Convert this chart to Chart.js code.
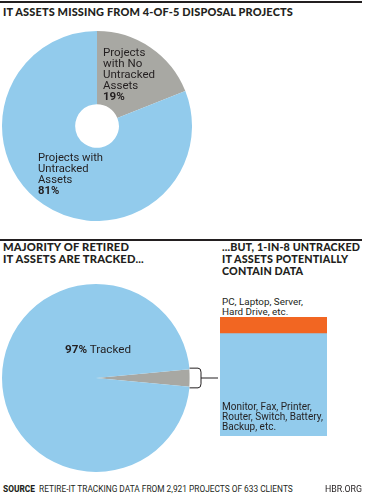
<!DOCTYPE html>
<html><head><meta charset="utf-8">
<script src="https://cdn.jsdelivr.net/npm/chart.js@4"></script>
<style>
html,body{margin:0;padding:0;background:#fff;}
#wrap{position:relative;width:365px;height:495px;overflow:hidden;font-family:Roboto,"Open Sans",sans-serif;color:#231f20;}
.abs{position:absolute;white-space:nowrap;}
.rule{position:absolute;left:0;width:362px;height:2px;background:#231f20;}
.h{font-family:Lato,sans-serif;font-weight:900;font-size:10.9px;line-height:12px;letter-spacing:0.15px;}
.lbl{font-size:10.2px;line-height:11px;}
.sm{font-size:10px;line-height:10px;}
.ft{font-size:7.3px;line-height:10px;}
canvas{position:absolute;}
</style></head>
<body><div id="wrap">
<div class="rule" style="top:1px"></div>
<div class="abs h" data-w="290" style="left:3px;top:6px">IT ASSETS MISSING FROM 4-OF-5 DISPOSAL PROJECTS</div>
<canvas id="donut" width="190" height="190" style="left:2px;top:31px"></canvas>
<div class="abs lbl" data-w="52" style="left:103px;top:47px">Projects<br>with No<br>Untracked<br>Assets<br><b>19%</b></div>
<div class="abs lbl" data-w="65" style="left:38px;top:152px">Projects with<br>Untracked<br>Assets<br><b>81%</b></div>

<div class="rule" style="top:239px"></div>
<div class="abs h" data-w="141" style="left:3px;top:241px">MAJORITY OF RETIRED<br>IT ASSETS ARE TRACKED...</div>
<div class="abs h" data-w="138" style="left:222px;top:241px">...BUT, 1-IN-8 UNTRACKED<br>IT ASSETS POTENTIALLY<br>CONTAIN DATA</div>

<canvas id="pie" width="216" height="188" style="left:2px;top:284px"></canvas>
<div class="abs" data-w="66" style="left:65px;top:343px;font-size:10.6px;line-height:12px"><b>97%</b> Tracked</div>

<canvas id="bar" width="107" height="119" style="left:220px;top:317px"></canvas>
<div class="abs sm" data-w="81" style="left:222px;top:297px">PC, Laptop, Server,<br>Hard Drive, etc.</div>
<div class="abs sm" data-w="101" style="left:222px;top:402px">Monitor, Fax, Printer,<br>Router, Switch, Battery,<br>Backup, etc.</div>

<div class="abs ft" data-w="290" style="left:3px;top:484px"><b style="font-weight:800">SOURCE</b>&nbsp; RETIRE-IT TRACKING DATA FROM 2,921 PROJECTS OF 633 CLIENTS</div>
<div class="abs ft" data-w="37" style="right:3px;top:484px">HBR.ORG</div>
</div>
<script>
// ---- data ----
const donutLabels = ["Projects with No Untracked Assets", "Projects with Untracked Assets"];
const donutValues = [19, 81];
const pieLabels = ["Untracked", "Tracked"];
const pieValues = [3, 97];
const barCategories = ["Untracked IT assets"];
const barContainsData = [14];   // PC, Laptop, Server, Hard Drive, etc.
const barOther = [86];          // Monitor, Fax, Printer, Router, ...

// fit text widths to the reference layout
document.querySelectorAll("[data-w]").forEach(el => {
  const fs = parseFloat(getComputedStyle(el).fontSize);
  const w = el.getBoundingClientRect().width;
  el.style.fontSize = (fs * parseFloat(el.dataset.w) / w).toFixed(2) + "px";
});

const BLUE = "#92cbec", GRAY = "#a8a8a3", ORANGE = "#f26622", INK = "#231f20";
Chart.defaults.animation = false;
Chart.defaults.plugins.legend.display = false;
Chart.defaults.plugins.tooltip.enabled = false;

new Chart(document.getElementById("donut"), {
  type: "doughnut",
  data: { labels: donutLabels, datasets: [{ data: donutValues, backgroundColor: [GRAY, BLUE], borderWidth: 0 }] },
  options: { responsive: false, devicePixelRatio: 1, cutout: "23%", rotation: 0, layout: { padding: 0 } }
});

const bracket = {
  id: "bracket",
  afterDatasetsDraw(chart) {
    const a = chart.getDatasetMeta(0).data[0];
    const { x, y, startAngle, endAngle, outerRadius: R } = a.getProps(["x","y","startAngle","endAngle","outerRadius"], true);
    const p1 = { x: x + R * Math.cos(startAngle), y: y + R * Math.sin(startAngle) };
    const p2 = { x: x + R * Math.cos(endAngle), y: y + R * Math.sin(endAngle) };
    const top = p1.y - 1, bot = p2.y + 1;
    const bx = x + R + 11;
    const ctx = chart.ctx;
    ctx.save();
    ctx.beginPath();
    ctx.moveTo(p1.x, top);
    ctx.lineTo(bx - 3, top);
    ctx.quadraticCurveTo(bx, top, bx, top + 4);
    ctx.lineTo(bx, bot - 4);
    ctx.quadraticCurveTo(bx, bot, bx - 3, bot);
    ctx.lineTo(p2.x, bot);
    ctx.fillStyle = "#fff";
    ctx.fill();
    ctx.strokeStyle = INK;
    ctx.lineWidth = 1;
    ctx.stroke();
    ctx.beginPath();
    ctx.moveTo(bx, (top + bot) / 2);
    ctx.lineTo(chart.width, (top + bot) / 2);
    ctx.stroke();
    ctx.restore();
  }
};

new Chart(document.getElementById("pie"), {
  type: "pie",
  data: { labels: pieLabels, datasets: [{ data: pieValues, backgroundColor: [GRAY, BLUE], borderWidth: 0 }] },
  options: {
    responsive: false, devicePixelRatio: 1,
    rotation: 90 - pieValues[0] / 100 * 360 / 2,
    layout: { padding: { right: 28 } }
  },
  plugins: [bracket]
});

new Chart(document.getElementById("bar"), {
  type: "bar",
  data: {
    labels: barCategories,
    datasets: [
      { label: "Monitor, Fax, Printer, Router, Switch, Battery, Backup, etc.", data: barOther, backgroundColor: BLUE, borderWidth: 0 },
      { label: "PC, Laptop, Server, Hard Drive, etc.", data: barContainsData, backgroundColor: ORANGE, borderWidth: 0 }
    ]
  },
  options: {
    responsive: false, devicePixelRatio: 1,
    layout: { padding: 0 },
    datasets: { bar: { barPercentage: 1, categoryPercentage: 1 } },
    scales: {
      x: { stacked: true, display: false },
      y: { stacked: true, display: false, min: 0, max: 100 }
    }
  }
});
</script>
</body></html>
